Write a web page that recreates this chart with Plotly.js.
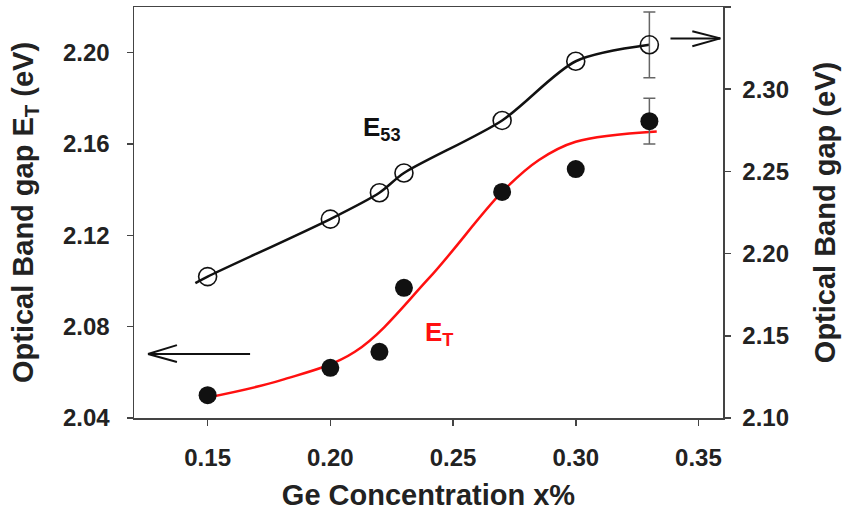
<!DOCTYPE html>
<html>
<head>
<meta charset="utf-8">
<script src="https://cdn.plot.ly/plotly-3.0.1.min.js"></script>
<style>html,body{margin:0;padding:0;background:#fff;}#chart{width:843px;height:516px;}</style>
</head>
<body>
<div id="chart"></div>
<script>
// Ge concentration (x%)
const geX = [0.15, 0.20, 0.22, 0.23, 0.27, 0.30, 0.33];
// E53 band gap (right axis, eV) - open circles
const e53 = [2.186, 2.221, 2.237, 2.249, 2.281, 2.317, 2.327];
// ET band gap (left axis, eV) - filled circles
const eT = [2.050, 2.062, 2.069, 2.097, 2.139, 2.149, 2.170];
// error bars at the last point
const errX = [0.33];
const errE53 = [0.02];
const errET = [0.01];
// smoothed black guide line for E53
const e53LineX = [0.145, 0.15, 0.20, 0.22, 0.23, 0.27, 0.30, 0.33];
const e53LineY = [2.182, 2.186, 2.221, 2.237, 2.249, 2.281, 2.317, 2.327];
// red fit curve for ET
const fitX = [0.15, 0.18, 0.21, 0.24, 0.27, 0.285, 0.30, 0.333];
const fitY = [2.049, 2.0566, 2.069, 2.101, 2.139, 2.153, 2.161, 2.1655];

const fam = 'Liberation Sans, Arial, Helvetica, sans-serif';
const txt = '#222';

const traces = [
  {x: fitX, y: fitY, yaxis: 'y', mode: 'lines', line: {color: '#ff1010', width: 2.5, shape: 'spline', smoothing: 1}, hoverinfo: 'skip'},
  {x: errX, y: [eT[eT.length-1]], yaxis: 'y', mode: 'markers', marker: {size: 1, opacity: 0},
   error_y: {type: 'data', array: errET, visible: true, color: '#666', thickness: 1.5, width: 6}},
  {x: geX, y: eT, yaxis: 'y', mode: 'markers', marker: {symbol: 'circle', size: 18, color: '#111'}},
  {x: e53LineX, y: e53LineY, yaxis: 'y2', mode: 'lines', line: {color: '#111', width: 2.5, shape: 'spline', smoothing: 0.8}},
  {x: errX, y: [e53[e53.length-1]], yaxis: 'y2', mode: 'markers', marker: {size: 1, opacity: 0},
   error_y: {type: 'data', array: errE53, visible: true, color: '#666', thickness: 1.5, width: 6}},
  {x: geX, y: e53, yaxis: 'y2', mode: 'markers', marker: {symbol: 'circle-open', size: 18, color: '#111', line: {width: 1.6, color: '#111'}}}
];

const axisCommon = {
  showline: true, linecolor: '#444', linewidth: 1.5, ticks: 'outside', ticklen: 6, tickwidth: 1.5, tickcolor: '#444',
  showgrid: false, zeroline: false, tickfont: {family: fam, size: 24, color: txt, weight: 700}
};

const layout = {
  width: 843, height: 516,
  margin: {l: 134, r: 120, t: 7, b: 98},
  paper_bgcolor: '#fff', plot_bgcolor: '#fff',
  showlegend: false,
  xaxis: Object.assign({}, axisCommon, {range: [0.12, 0.36], tick0: 0.15, dtick: 0.05, tickformat: '.2f', mirror: true,
    ticklabelstandoff: 12,
    title: {text: 'Ge Concentration x%', font: {family: fam, size: 29, color: txt, weight: 700}, standoff: 14}}),
  yaxis: Object.assign({}, axisCommon, {range: [2.04, 2.22], tick0: 2.04, dtick: 0.04, tickformat: '.2f',
    ticklabelstandoff: 12,
    title: {text: 'Optical Band gap E<sub>T</sub> (eV)', font: {family: fam, size: 29, color: txt, weight: 700}, standoff: 21}}),
  yaxis2: Object.assign({}, axisCommon, {overlaying: 'y', side: 'right', range: [2.10, 2.35], tick0: 2.10, dtick: 0.05, tickformat: '.2f',
    ticklabelstandoff: 7,
    title: {text: 'Optical Band gap (eV)', font: {family: fam, size: 29, color: txt, weight: 700}, standoff: 26}}),
  annotations: [
    {xref: 'x', yref: 'y2', x: 0.2125, y: 2.2758, xanchor: 'left', yanchor: 'middle', showarrow: false,
     text: 'E<sub>53</sub>', font: {family: fam, size: 26, color: '#111', weight: 700}},
    {xref: 'x', yref: 'y', x: 0.2377, y: 2.0772, xanchor: 'left', yanchor: 'middle', showarrow: false,
     text: 'E<sub>T</sub>', font: {family: fam, size: 26, color: '#ff1010', weight: 700}}
  ],
  shapes: [
    {type: 'line', xref: 'x', yref: 'y', x0: 0.1673, y0: 2.068, x1: 0.1257, y1: 2.068, line: {color: '#111', width: 2}},
    {type: 'line', xref: 'x', yref: 'y', x0: 0.1375, y0: 2.0719, x1: 0.1257, y1: 2.068, line: {color: '#111', width: 2}},
    {type: 'line', xref: 'x', yref: 'y', x0: 0.1375, y0: 2.0645, x1: 0.1257, y1: 2.068, line: {color: '#111', width: 2}},
    {type: 'line', xref: 'x', yref: 'y2', x0: 0.3386, y0: 2.3309, x1: 0.3589, y1: 2.3309, line: {color: '#111', width: 2}},
    {type: 'line', xref: 'x', yref: 'y2', x0: 0.3475, y0: 2.3352, x1: 0.3589, y1: 2.3309, line: {color: '#111', width: 2}},
    {type: 'line', xref: 'x', yref: 'y2', x0: 0.3475, y0: 2.3261, x1: 0.3589, y1: 2.3309, line: {color: '#111', width: 2}}
  ]
};

Plotly.newPlot('chart', traces, layout, {staticPlot: true, displayModeBar: false});
</script>
</body>
</html>
